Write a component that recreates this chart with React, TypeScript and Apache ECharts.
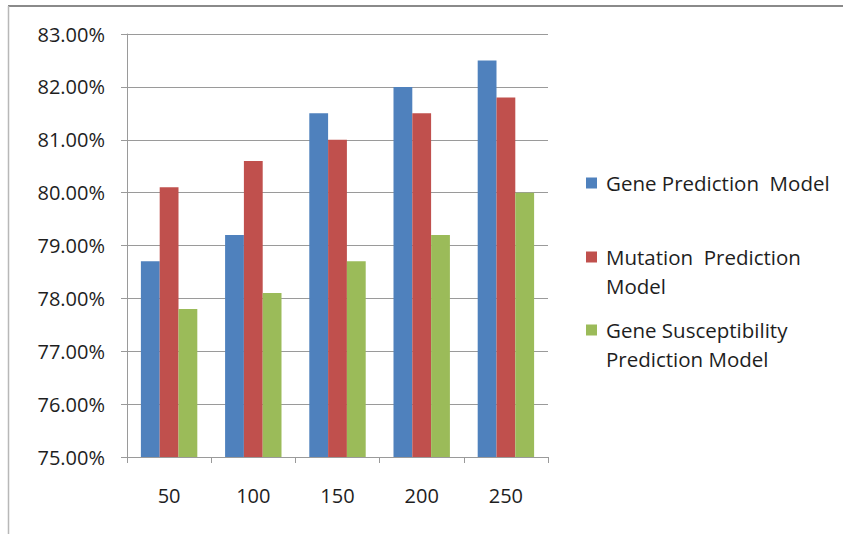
import React, { useEffect, useRef } from "react";
import * as echarts from "echarts";

// Sample sizes on the x axis
const categories = ["50", "100", "150", "200", "250"];

// Accuracy (%) of each model at each sample size
const geneSeries = [78.7, 79.2, 81.5, 82.0, 82.5];
const mutationSeries = [80.1, 80.6, 81.0, 81.5, 81.8];
const susceptibilitySeries = [77.8, 78.1, 78.7, 79.2, 80.0];

const seriesNames = [
  "Gene Prediction  Model",
  "Mutation  Prediction Model",
  "Gene Susceptibility Prediction Model",
];
const legendLabels = [
  "Gene Prediction  Model",
  "Mutation  Prediction\nModel",
  "Gene Susceptibility\nPrediction Model",
];
const colors = ["#4F81BD", "#C0504D", "#9BBB59"];

const FONT = "'Open Sans', 'Noto Sans', sans-serif";
const TEXT_COLOR = "#1e1e1e";
const GRID_COLOR = "#9a9a9a";

// square marker that sits on the first line of a two-line legend label
const TALL_ICON = "path://M0,0L11,0L11,11L0,11ZM0,40";

export default function App() {
  const ref = useRef<HTMLDivElement>(null);

  useEffect(() => {
    if (!ref.current) return;
    const chart = echarts.init(ref.current, null, { renderer: "svg" });

    const legendText = {
      fontFamily: FONT,
      fontSize: 20.5,
      color: TEXT_COLOR,
      lineHeight: 29,
      padding: [0, 0, 0, 4],
    };
    const formatter = (name: string) => legendLabels[seriesNames.indexOf(name)];

    chart.setOption({
      animation: false,
      color: colors,
      grid: { left: 127, right: 295, top: 34, bottom: 77 },
      legend: [
        {
          data: [seriesNames[0]],
          left: 586,
          top: 168.5,
          padding: 0,
          icon: "rect",
          itemWidth: 11,
          itemHeight: 11,
          formatter,
          textStyle: legendText,
          selectedMode: false,
        },
        {
          data: [seriesNames[1]],
          left: 586,
          top: 242.5,
          padding: 0,
          icon: TALL_ICON,
          itemWidth: 11,
          itemHeight: 40,
          formatter,
          textStyle: legendText,
          selectedMode: false,
        },
        {
          data: [seriesNames[2]],
          left: 586,
          top: 315.5,
          padding: 0,
          icon: TALL_ICON,
          itemWidth: 11,
          itemHeight: 40,
          formatter,
          textStyle: legendText,
          selectedMode: false,
        },
      ],
      xAxis: {
        type: "category",
        data: categories,
        boundaryGap: true,
        axisLine: { lineStyle: { color: GRID_COLOR, width: 1 } },
        axisTick: { show: true, length: 6, lineStyle: { color: GRID_COLOR } },
        axisLabel: {
          margin: 28,
          fontFamily: FONT,
          fontSize: 20,
          color: TEXT_COLOR,
        },
      },
      yAxis: {
        type: "value",
        min: 75,
        max: 83,
        interval: 1,
        axisLine: { show: true, lineStyle: { color: GRID_COLOR, width: 1 } },
        axisTick: { show: true, length: 6, lineStyle: { color: GRID_COLOR } },
        splitLine: { show: true, lineStyle: { color: GRID_COLOR, width: 1 } },
        axisLabel: {
          margin: 22,
          fontFamily: FONT,
          fontSize: 20,
          color: TEXT_COLOR,
          formatter: (v: number) => v.toFixed(2) + "%",
        },
      },
      series: [geneSeries, mutationSeries, susceptibilitySeries].map((data, i) => ({
        name: seriesNames[i],
        type: "bar",
        data,
        barGap: "0%",
        barCategoryGap: "33%",
        itemStyle: { color: colors[i] },
      })),
      graphic: [
        {
          type: "line",
          shape: { x1: 8, y1: 6, x2: 843, y2: 6 },
          style: { stroke: "#8a8a8a", lineWidth: 2 },
          silent: true,
        },
        {
          type: "line",
          shape: { x1: 8.5, y1: 6, x2: 8.5, y2: 534 },
          style: { stroke: "#b8b8b8", lineWidth: 1.5 },
          silent: true,
        },
      ],
    });

    return () => chart.dispose();
  }, []);

  return (
    <div
      ref={ref}
      style={{ position: "fixed", left: 0, top: 0, width: 843, height: 534, background: "#fff" }}
    />
  );
}
